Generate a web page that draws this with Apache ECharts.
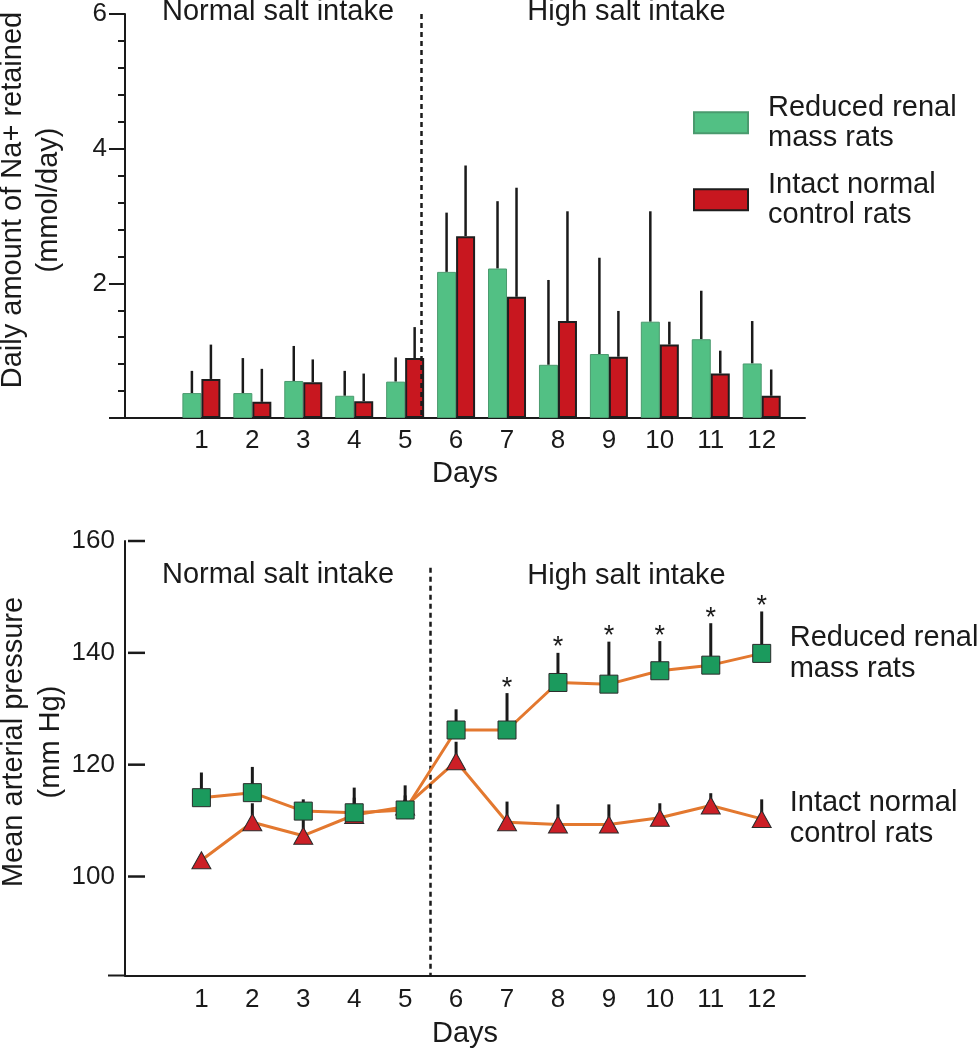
<!DOCTYPE html>
<html><head><meta charset="utf-8">
<script src="https://cdn.jsdelivr.net/npm/echarts@6/dist/echarts.min.js"></script>
<style>html,body{margin:0;padding:0;background:#fff}#c{width:978px;height:1050px}</style>
</head><body><div id="c"></div>
<script>
var days = [1, 2, 3, 4, 5, 6, 7, 8, 9, 10, 11, 12];
var dayTicks = [1, 2, 3, 4, 5, 6, 7, 8, 9, 10, 11, 12];
var naTicks = [2, 4, 6];
var mapTicks = [100, 120, 140, 160];

// Top panel: daily Na+ retained (mmol/day); *Upper = top of error bar
var naRenal       = [0.37, 0.37, 0.55, 0.33, 0.54, 2.17, 2.22, 0.79, 0.95, 1.43, 1.17, 0.81];
var naRenalUpper  = [0.70, 0.89, 1.07, 0.70, 0.90, 3.05, 3.22, 2.05, 2.38, 3.07, 1.89, 1.44];
var naControl     = [0.58, 0.24, 0.53, 0.25, 0.89, 2.70, 1.80, 1.44, 0.91, 1.09, 0.66, 0.33];
var naControlUpper= [1.09, 0.73, 0.87, 0.66, 1.35, 3.75, 3.42, 3.07, 1.59, 1.43, 1.00, 0.72];

// Bottom panel: mean arterial pressure (mm Hg)
var mapRenal       = [114.1, 115.0, 111.7, 111.4, 111.9, 126.2, 126.2, 134.7, 134.4, 136.8, 137.8, 139.9];
var mapRenalUpper  = [118.6, 119.6, 113.8, 115.9, 116.3, 129.9, 132.8, 140.0, 142.0, 142.1, 145.3, 147.4];
var mapControl     = [102.9, 109.7, 107.3, 111.0, 112.5, 120.6, 109.7, 109.3, 109.3, 110.5, 112.7, 110.3];
var mapControlUpper= [104.0, 113.1, 110.8, 114.1, 114.5, 124.1, 113.4, 112.9, 112.9, 113.1, 114.9, 113.8];
var significant    = [0, 0, 0, 0, 0, 0, 1, 1, 1, 1, 1, 1];

var nameRenal = 'Reduced renal\nmass rats';
var nameControl = 'Intact normal\ncontrol rats';
var periodSplit = 5.5;
var xMin = -0.5, xMax = 12.85;
var mapMin = 82.3, mapMax = 160;

var FONT = '"Liberation Sans", Arial, Helvetica, sans-serif';
var INK = '#1a1a1a';

function pairs(a) { return days.map(function (d, i) { return [d, a[i]]; }); }
function triples(a, b, c) { return days.map(function (d, i) { return c ? [d, a[i], b[i], c[i]] : [d, a[i], b[i]]; }); }

function barErr(offset) {
  return function (params, api) {
    var x = api.value(0), lo = api.value(1), hi = api.value(2);
    var p1 = api.coord([x, lo]), p2 = api.coord([x, hi]);
    return { type: 'line', shape: { x1: p1[0] + offset, y1: p1[1], x2: p2[0] + offset, y2: p2[1] },
      style: { stroke: INK, lineWidth: 2.5 } };
  };
}
function pointErr(params, api) {
  var x = api.value(0), lo = api.value(1), hi = api.value(2), s = api.value(3);
  var p1 = api.coord([x, lo]), p2 = api.coord([x, hi]);
  var ch = [{ type: 'line', shape: { x1: p1[0], y1: p1[1], x2: p2[0], y2: p2[1] },
    style: { stroke: INK, lineWidth: 3 } }];
  if (s) ch.push({ type: 'text', style: { text: '*', x: p2[0], y: p2[1] - 5, align: 'center',
    verticalAlign: 'middle', fontSize: 27, fontFamily: FONT, fill: INK } });
  return { type: 'group', children: ch };
}
// inward-pointing tick marks on the pressure axis
function innerTick(params, api) {
  var p = api.coord([api.value(0), api.value(1)]);
  return { type: 'line', shape: { x1: p[0] + 3, y1: p[1], x2: p[0] + 20, y2: p[1] },
    style: { stroke: INK, lineWidth: 2.5 } };
}

function xAx(gi, nameGap, margin) {
  return {
    type: 'value', gridIndex: gi, min: xMin, max: xMax,
    axisLine: { show: true, onZero: false, lineStyle: { color: INK, width: 2 } },
    axisTick: { show: false },
    splitLine: { show: false },
    axisLabel: { customValues: dayTicks, fontSize: 26, fontFamily: FONT, color: INK, margin: margin },
    name: 'Days', nameLocation: 'middle', nameGap: nameGap,
    nameTextStyle: { fontSize: 29, fontFamily: FONT, color: INK, lineHeight: 29 }
  };
}

var textStyleBase = { font: '29px ' + FONT, fill: INK, align: 'center', verticalAlign: 'middle', textAlign: 'center', textVerticalAlign: 'middle' };
function gText(x, y, text, extra) {
  var st = Object.assign({}, textStyleBase, { text: text }, extra || {});
  return { type: 'text', x: x, y: y, style: st };
}
var graphics = [
  gText(278, 11.7, 'Normal salt intake'),
  gText(626.5, 11.7, 'High salt intake'),
  gText(278, 575, 'Normal salt intake'),
  gText(626.5, 576, 'High salt intake'),
  Object.assign(gText(31, 200, 'Daily amount of Na+ retained\n(mmol/day)', { lineHeight: 36 }), { rotation: Math.PI / 2 }),
  Object.assign(gText(32.5, 742, 'Mean arterial pressure\n(mm Hg)', { lineHeight: 37 }), { rotation: Math.PI / 2 })
];

var chart = echarts.init(document.getElementById('c'), null, { renderer: 'canvas' });
chart.setOption({
  animation: false,
  backgroundColor: '#ffffff',
  textStyle: { fontFamily: FONT },
  grid: [
    { left: 125, right: 173, top: 14, height: 404 },
    { left: 125, right: 173, top: 541, height: 434.5 }
  ],
  xAxis: [xAx(0, 41, 10), xAx(1, 44, 11)],
  yAxis: [
    { type: 'value', gridIndex: 0, min: 0, max: 6, interval: 2,
      axisLine: { show: true, onZero: false, lineStyle: { color: INK, width: 2 } },
      axisTick: { show: true, inside: false, length: 16, lineStyle: { color: INK, width: 2 } },
      minorTick: { show: true, splitNumber: 5, length: 7, lineStyle: { color: INK, width: 2 } },
      splitLine: { show: false }, minorSplitLine: { show: false },
      axisLabel: { customValues: naTicks, fontSize: 26, fontFamily: FONT, color: INK, margin: 18 } },
    { type: 'value', gridIndex: 1, min: mapMin, max: mapMax,
      axisLine: { show: true, onZero: false, lineStyle: { color: INK, width: 2 } },
      axisTick: { show: false },
      splitLine: { show: false },
      axisLabel: { customValues: mapTicks, fontSize: 26, fontFamily: FONT, color: INK, margin: 10 } }
  ],
  legend: {
    orient: 'vertical', left: 693, top: 92.8, padding: 0, itemGap: 17,
    itemWidth: 54, itemHeight: 21, icon: 'rect',
    data: [nameRenal, nameControl],
    textStyle: { fontSize: 29, fontFamily: FONT, color: INK, lineHeight: 30, padding: [0, 0, 0, 15] }
  },
  series: [
    { type: 'custom', name: 'errR', xAxisIndex: 0, yAxisIndex: 0, z: 1, silent: true,
      renderItem: barErr(-9.5), data: triples(naRenal, naRenalUpper), encode: { x: 0, y: [1, 2] } },
    { type: 'custom', name: 'errC', xAxisIndex: 0, yAxisIndex: 0, z: 1, silent: true,
      renderItem: barErr(9.5), data: triples(naControl, naControlUpper), encode: { x: 0, y: [1, 2] } },
    { type: 'bar', name: nameRenal, xAxisIndex: 0, yAxisIndex: 0, z: 2,
      barWidth: 19, barGap: '0%', data: pairs(naRenal),
      itemStyle: { color: '#52c084', borderColor: '#4a9a6e', borderWidth: 1 },
      markLine: { silent: true, symbol: 'none', label: { show: false },
        lineStyle: { color: INK, width: 2.5, type: [5, 4] },
        data: [[{ coord: [periodSplit, 6] }, { coord: [periodSplit, 0] }]] } },
    { type: 'bar', name: nameControl, xAxisIndex: 0, yAxisIndex: 0, z: 2,
      barWidth: 19, barGap: '0%', data: pairs(naControl),
      itemStyle: { color: '#c8171f', borderColor: '#1e1e1e', borderWidth: 2 } },

    { type: 'custom', name: 'mapTicks', xAxisIndex: 1, yAxisIndex: 1, z: 1, silent: true, clip: false,
      renderItem: innerTick, data: mapTicks.map(function (v) { return [xMin, v]; }), encode: { x: 0, y: 1 } },
    { type: 'custom', name: 'errMC', xAxisIndex: 1, yAxisIndex: 1, z: 3, silent: true,
      renderItem: pointErr, data: triples(mapControl, mapControlUpper, days.map(function(){return 0;})),
      encode: { x: 0, y: [1, 2] } },
    { type: 'line', name: 'mapControl', xAxisIndex: 1, yAxisIndex: 1, z: 4,
      data: pairs(mapControl), symbol: 'triangle', symbolSize: [19, 17], showAllSymbol: true,
      lineStyle: { color: '#e3782f', width: 3 },
      itemStyle: { color: '#cc1f26', borderColor: '#2a2a2a', borderWidth: 1 },
      endLabel: { show: true, formatter: nameControl, distance: 28, fontSize: 29, fontFamily: FONT,
        color: INK, lineHeight: 31 },
      markLine: { silent: true, symbol: 'none', label: { show: false },
        lineStyle: { color: INK, width: 2.5, type: [5, 4] },
        data: [[{ coord: [periodSplit, 155.2] }, { coord: [periodSplit, mapMin] }]] } },
    { type: 'custom', name: 'errMR', xAxisIndex: 1, yAxisIndex: 1, z: 5, silent: true,
      renderItem: pointErr, data: triples(mapRenal, mapRenalUpper, significant),
      encode: { x: 0, y: [1, 2] } },
    { type: 'line', name: 'mapRenal', xAxisIndex: 1, yAxisIndex: 1, z: 6,
      data: pairs(mapRenal), symbol: 'rect', symbolSize: 18, showAllSymbol: true,
      lineStyle: { color: '#e3782f', width: 3 },
      itemStyle: { color: '#1b9a5d', borderColor: '#2a2a2a', borderWidth: 1 },
      endLabel: { show: true, formatter: nameRenal, distance: 28, fontSize: 29, fontFamily: FONT,
        color: INK, lineHeight: 31 } }
  ],
  graphic: graphics
});

// extend the lower baseline a little to the left of the y axis, as in the original
var corner = chart.convertToPixel({ xAxisIndex: 1, yAxisIndex: 1 }, [xMin, mapMin]);
graphics.push({ type: 'line', shape: { x1: corner[0] - 17, y1: corner[1], x2: corner[0], y2: corner[1] },
  style: { stroke: INK, lineWidth: 2 } });
chart.setOption({ graphic: graphics });
</script></body></html>
